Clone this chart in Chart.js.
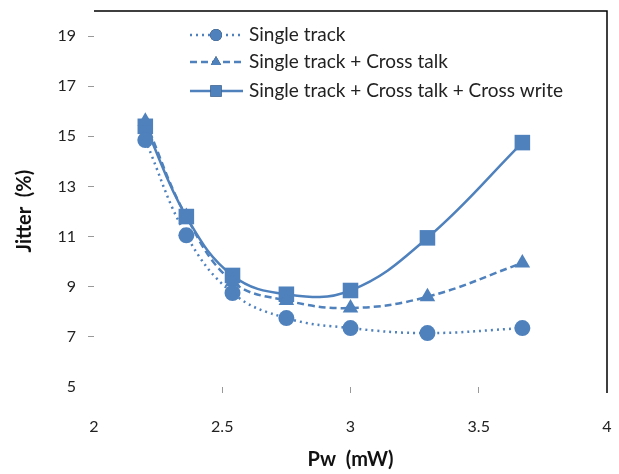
<!DOCTYPE html>
<html>
<head>
<meta charset="utf-8">
<script src="https://cdn.jsdelivr.net/npm/chart.js@4/dist/chart.umd.min.js"></script>
<style>
  html, body { margin: 0; padding: 0; background: #fff; }
  #wrap { width: 619px; height: 474px; }
</style>
</head>
<body>
<div id="wrap"><canvas id="c" width="619" height="474"></canvas></div>
<script>
// ── Data ───────────────────────────────────────────────────────────────────
const pw          = [2.2, 2.36, 2.54, 2.75, 3.0, 3.3, 3.67];
const singleTrack = [14.85, 11.05, 8.75, 7.75, 7.35, 7.15, 7.35];
const crossTalk   = [15.6, 11.8, 9.2, 8.45, 8.15, 8.6, 9.95];
const crossWrite  = [15.4, 11.8, 9.45, 8.7, 8.85, 10.95, 14.75];
const seriesNames = ["Single track", "Single track + Cross talk", "Single track + Cross talk + Cross write"];
const xTicks = [2, 2.5, 3, 3.5, 4];
const yTicks = [5, 7, 9, 11, 13, 15, 17, 19];

const BLUE = "#4F81BD";
const FONT = "Lato, 'Open Sans', sans-serif";

const styles = [
  { dash: [2, 4], point: "circle",   radius: 8,  legendRadius: 6 },
  { dash: [7, 4], point: "triangle", radius: 9,  legendRadius: 6 },
  { dash: [],     point: "rect",     radius: 11, legendRadius: 8 },
];
const seriesData = [singleTrack, crossTalk, crossWrite];

const datasets = seriesData.map((vals, i) => ({
  label: seriesNames[i],
  data: pw.map((x, j) => ({ x, y: vals[j] })),
  borderColor: BLUE,
  backgroundColor: BLUE,
  borderWidth: 2.5,
  borderDash: styles[i].dash,
  pointStyle: styles[i].point,
  pointRadius: styles[i].radius,
  pointBorderWidth: 0,
  tension: 0.4,
  fill: false,
}));

// top + right frame lines, as in the original
const framePlugin = {
  id: "frame",
  afterDraw(chart) {
    const { ctx, chartArea: a } = chart;
    ctx.save();
    ctx.strokeStyle = "#000";
    ctx.lineWidth = 1.5;
    ctx.beginPath();
    ctx.moveTo(a.left, a.top);
    ctx.lineTo(a.right, a.top);
    ctx.lineTo(a.right, a.bottom + 6);
    ctx.stroke();
    ctx.restore();
  },
};

// legend drawn inside the plot, with line samples
const legendPlugin = {
  id: "innerLegend",
  afterDraw(chart) {
    const { ctx } = chart;
    const x0 = 190, x1 = 243, mx = 216, tx = 249;
    const rows = [35, 62, 91];
    ctx.save();
    ctx.font = "19px " + FONT;
    ctx.textBaseline = "middle";
    seriesNames.forEach((name, i) => {
      const y = rows[i];
      ctx.strokeStyle = BLUE;
      ctx.lineWidth = 2.5;
      ctx.setLineDash(styles[i].dash);
      ctx.beginPath();
      ctx.moveTo(x0, y);
      ctx.lineTo(x1, y);
      ctx.stroke();
      ctx.setLineDash([]);
      Chart.helpers.drawPoint(ctx, {
        pointStyle: styles[i].point,
        radius: styles[i].legendRadius,
        borderWidth: 0,
      }, mx, y);
      ctx.fillStyle = BLUE;
      ctx.fill();
      ctx.fillStyle = "#222";
      ctx.fillText(name, tx, y);
    });
    ctx.restore();
  },
};

new Chart(document.getElementById("c"), {
  type: "line",
  data: { datasets },
  plugins: [framePlugin, legendPlugin],
  options: {
    responsive: false,
    animation: false,
    layout: { padding: { top: 7, right: 12, bottom: 0, left: 0 } },
    plugins: { legend: { display: false }, tooltip: { enabled: false } },
    scales: {
      x: {
        type: "linear",
        min: 2, max: 4,
        afterBuildTicks: s => { s.ticks = xTicks.map(v => ({ value: v })); },
        afterFit: s => { s.height = 87; s.paddingLeft = 0; s.paddingRight = 0; },
        border: { display: false },
        grid: {
          drawOnChartArea: false,
          tickLength: 6,
          color: ctx => (ctx.tick && (ctx.tick.value === 2 || ctx.tick.value === 4)) ? "transparent" : "#999",
        },
        ticks: {
          color: "#222", font: { family: FONT, size: 16 }, padding: 24, maxRotation: 0,
          callback: v => String(v),
        },
        title: {
          display: true, text: "Pw  (mW)", color: "#111",
          font: { family: FONT, size: 20, weight: "bold" },
          padding: { top: 0, bottom: 2 },
        },
      },
      y: {
        min: 5, max: 20,
        afterBuildTicks: s => { s.ticks = yTicks.map(v => ({ value: v })); },
        afterFit: s => { s.width = 94; s.paddingTop = 0; s.paddingBottom = 0; },
        border: { display: false },
        grid: {
          drawOnChartArea: false,
          tickLength: 6,
          color: ctx => (ctx.tick && ctx.tick.value === 5) ? "transparent" : "#999",
        },
        ticks: { color: "#222", font: { family: FONT, size: 16 }, padding: 12 },
        title: {
          display: true, text: "Jitter  (%)     ", color: "#111",
          font: { family: FONT, size: 20, weight: "bold" },
          padding: { top: 13, bottom: 0 },
        },
      },
    },
  },
});
</script>
</body>
</html>
